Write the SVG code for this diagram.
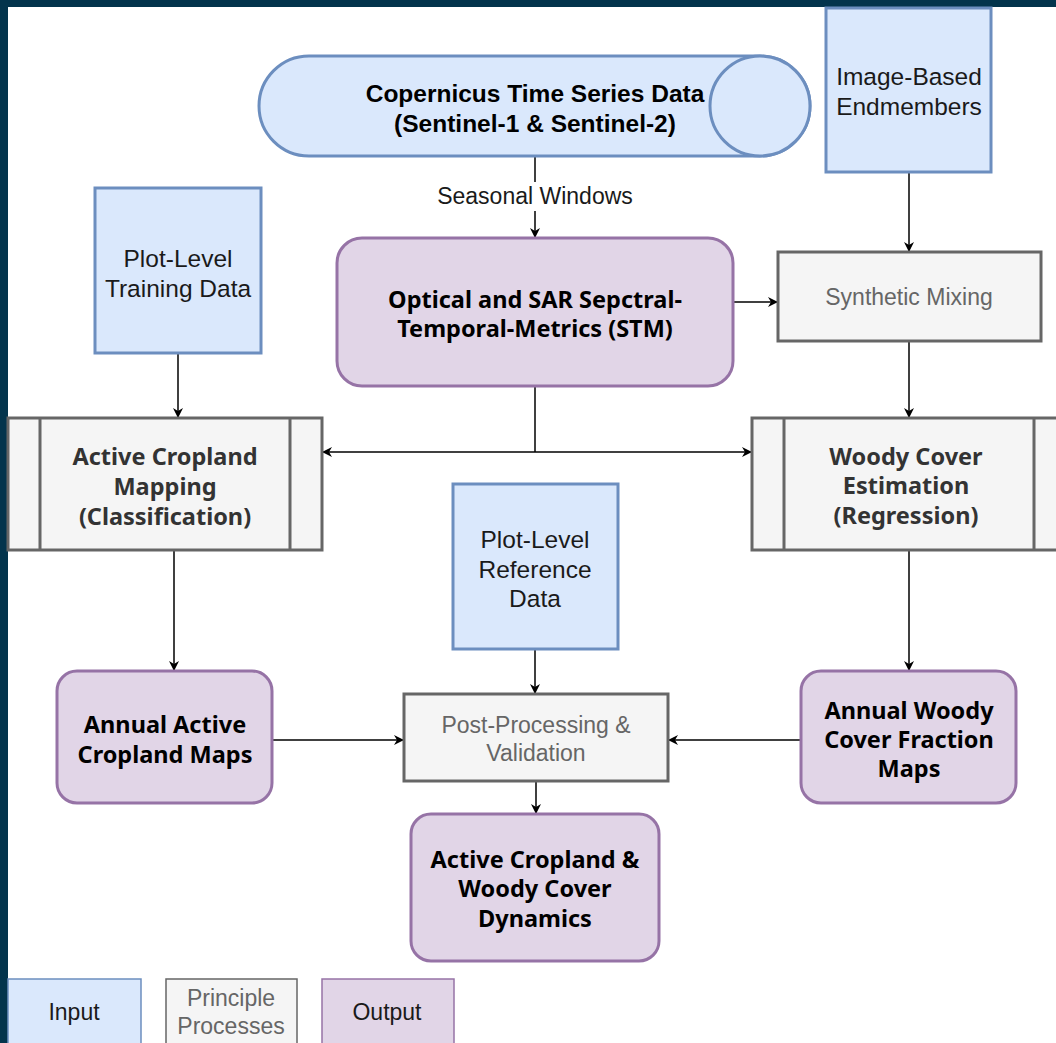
<svg xmlns="http://www.w3.org/2000/svg" width="1056" height="1043" viewBox="0 0 1056 1043">
<defs>
<marker id="arr" viewBox="0 0 10 10" refX="9" refY="5" markerWidth="10" markerHeight="10" markerUnits="userSpaceOnUse" orient="auto-start-reverse">
<path d="M0,0 L10,5 L0,10 L3,5 Z" fill="#000"/>
</marker>
<style>
.inp{fill:#dae8fc;stroke:#6c8ebf;stroke-width:3}
.proc{fill:#f5f5f5;stroke:#666666;stroke-width:3}
.out{fill:#e1d5e7;stroke:#9673a6;stroke-width:3}
.t{font-family:"Liberation Sans",Arial,sans-serif;font-size:24.5px;text-anchor:middle;fill:#1a1a1a}
.ts{font-family:"Liberation Sans",Arial,sans-serif;font-size:23px;text-anchor:middle;fill:#1a1a1a}
.tg{font-family:"Liberation Sans",Arial,sans-serif;font-size:23px;text-anchor:middle;fill:#666666}
.tb{font-family:"Noto Sans",Tahoma,sans-serif;font-weight:bold;font-size:23.5px;text-anchor:middle;fill:#000}
.tbg{font-family:"Noto Sans",Tahoma,sans-serif;font-weight:bold;font-size:23.5px;text-anchor:middle;fill:#333333}
.tc{font-family:"Liberation Sans",Arial,sans-serif;font-weight:bold;font-size:24.5px;text-anchor:middle;fill:#000}
.e{fill:none;stroke:#000;stroke-width:1.5}
</style>
</defs>
<rect x="0" y="0" width="1056" height="1043" fill="#ffffff"/>
<rect x="0" y="0" width="1056" height="7" fill="#03344c"/>
<rect x="0" y="0" width="8" height="1043" fill="#03344c"/>

<g id="connectors">
<path class="e" d="M535,157 V182" />
<path class="e" d="M535,211 V237" marker-end="url(#arr)"/>
<text class="ts" x="535" y="204">Seasonal Windows</text>
<path class="e" d="M909,173 V251" marker-end="url(#arr)"/>
<path class="e" d="M734,302 H777" marker-end="url(#arr)"/>
<path class="e" d="M909,342 V417" marker-end="url(#arr)"/>
<path class="e" d="M535,387 V452"/>
<path class="e" d="M323,452 H751" marker-start="url(#arr)" marker-end="url(#arr)"/>
<path class="e" d="M178,354 V417" marker-end="url(#arr)"/>
<path class="e" d="M174,551 V670" marker-end="url(#arr)"/>
<path class="e" d="M909,551 V670" marker-end="url(#arr)"/>
<path class="e" d="M535,650 V693" marker-end="url(#arr)"/>
<path class="e" d="M273,740 H403" marker-end="url(#arr)"/>
<path class="e" d="M800,740 H669" marker-end="url(#arr)"/>
<path class="e" d="M536,782 V813" marker-end="url(#arr)"/>
</g>

<g id="copernicus">
<path class="inp" d="M309,56 H760 A50,50 0 0 1 760,156 H309 A50,50 0 0 1 309,56 Z"/>
<ellipse class="inp" cx="760" cy="106" rx="50" ry="50"/>
<text class="tc" x="535" y="102">Copernicus Time Series Data</text>
<text class="tc" x="535" y="132">(Sentinel-1 &amp; Sentinel-2)</text>
</g>

<g id="endmembers">
<rect class="inp" x="826" y="8" width="165" height="164"/>
<text class="t" x="909" y="85">Image-Based</text>
<text class="t" x="909" y="115">Endmembers</text>
</g>

<g id="training">
<rect class="inp" x="95" y="188" width="166" height="165"/>
<text class="t" x="178" y="267">Plot-Level</text>
<text class="t" x="178" y="297">Training Data</text>
</g>

<g id="stm">
<rect class="out" x="337" y="238" width="396" height="148" rx="25" ry="25"/>
<text class="tb" x="535" y="308">Optical and SAR Sepctral-</text>
<text class="tb" x="535" y="337">Temporal-Metrics (STM)</text>
</g>

<g id="synthetic">
<rect class="proc" x="778" y="252" width="263" height="89"/>
<text class="tg" x="909" y="305">Synthetic Mixing</text>
</g>

<g id="cropland-mapping">
<rect class="proc" x="8" y="418" width="314" height="132"/>
<path class="proc" d="M40,418 V550 M290,418 V550"/>
<text class="tbg" x="165" y="465">Active Cropland</text>
<text class="tbg" x="165" y="495">Mapping</text>
<text class="tbg" x="165" y="525">(Classification)</text>
</g>

<g id="woody-estimation">
<rect class="proc" x="752" y="418" width="314" height="132"/>
<path class="proc" d="M784,418 V550 M1034,418 V550"/>
<text class="tbg" x="906" y="465">Woody Cover</text>
<text class="tbg" x="906" y="494">Estimation</text>
<text class="tbg" x="906" y="524">(Regression)</text>
</g>

<g id="reference">
<rect class="inp" x="453" y="484" width="165" height="165"/>
<text class="t" x="535" y="548">Plot-Level</text>
<text class="t" x="535" y="578">Reference</text>
<text class="t" x="535" y="607">Data</text>
</g>

<g id="annual-cropland">
<rect class="out" x="57" y="671" width="215" height="132" rx="20" ry="20"/>
<text class="tb" x="165" y="733">Annual Active</text>
<text class="tb" x="165" y="763">Cropland Maps</text>
</g>

<g id="postprocessing">
<rect class="proc" x="404" y="694" width="264" height="87"/>
<text class="tg" x="536" y="733">Post-Processing &amp;</text>
<text class="tg" x="536" y="761">Validation</text>
</g>

<g id="annual-woody">
<rect class="out" x="801" y="671" width="215" height="132" rx="20" ry="20"/>
<text class="tb" x="909" y="719">Annual Woody</text>
<text class="tb" x="909" y="748">Cover Fraction</text>
<text class="tb" x="909" y="777">Maps</text>
</g>

<g id="dynamics">
<rect class="out" x="411" y="814" width="248" height="147" rx="20" ry="20"/>
<text class="tb" x="535" y="868">Active Cropland &amp;</text>
<text class="tb" x="535" y="897">Woody Cover</text>
<text class="tb" x="535" y="927">Dynamics</text>
</g>

<g id="legend-input">
<rect x="8" y="979" width="133" height="70" fill="#dae8fc" stroke="#6c8ebf" stroke-width="1.5"/>
<text class="ts" x="74" y="1020">Input</text>
</g>
<g id="legend-process">
<rect x="166" y="979" width="131" height="70" fill="#f5f5f5" stroke="#666666" stroke-width="1.5"/>
<text class="tg" x="231" y="1006">Principle</text>
<text class="tg" x="231" y="1034">Processes</text>
</g>
<g id="legend-output">
<rect x="322" y="979" width="132" height="70" fill="#e1d5e7" stroke="#9673a6" stroke-width="1.5"/>
<text class="ts" x="387" y="1020">Output</text>
</g>
</svg>
